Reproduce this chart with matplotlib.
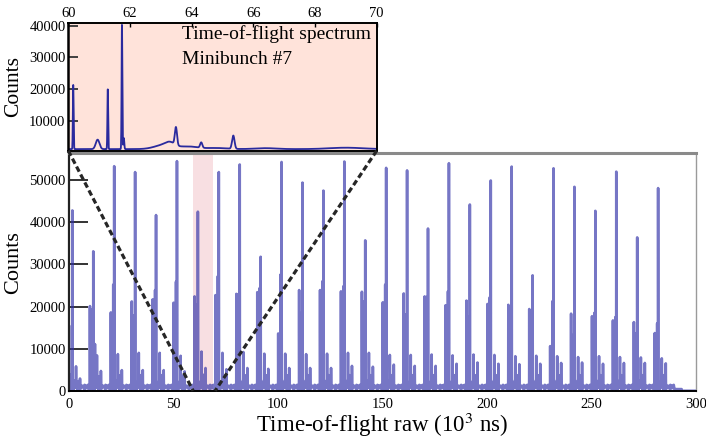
import numpy as np
import matplotlib
matplotlib.use("Agg")
import matplotlib.pyplot as plt
from matplotlib.lines import Line2D

plt.rcParams["font.family"] = ["Liberation Serif", "DejaVu Serif"]
plt.rcParams["mathtext.fontset"] = "stix"

# ---------------- full spectrum: one group of peaks per minibunch ----------------
bunch_start = np.arange(0, 290, 10)            # 10^3 ns, minibunch start times
main_peak = [42400, 32700, 52900, 51500, 41300, 54100, 42100, 51500, 53300, 31400,
             53900, 49000, 47100, 54000, 35300, 52500, 51900, 38100, 53600, 43800,
             49500, 52800, 27000, 52400, 48000, 42300, 51600, 36000, 47700]
early_peak = [15100, 19700, 18200, 20800, 21300, 20500, 22000, 22300, 22600, 23000,
              13200, 23500, 23500, 23200, 23100, 20600, 22700, 22000, 19900, 21000,
              20200, 20000, 19000, 10200, 17900, 17300, 16300, 15900, 13300]
near_peak = [3500, 19000, 24800, 17500, 23500, 25500, 20000, 26800, 22600, 24000,
             27200, 18100, 25600, 24400, 20800, 24800, 17700, 21900, 23200, 17100,
             21800, 18900, 16800, 20900, 12900, 18100, 17100, 13300, 15600]
after_peak = [2000, 10600, 1500, 1500, 1500, 1500, 1500, 1500, 1500, 1500,
              1500, 1500, 1500, 1500, 1500, 1500, 1500, 1500, 1500, 1500,
              1500, 1500, 1500, 1500, 1500, 1500, 1500, 1500, 1500]
late_peak1 = [3800, 6400, 6700, 7000, 7000, 6300, 7300, 7000, 7200, 6800,
              6800, 6700, 6800, 7000, 7000, 6500, 6500, 6600, 6400, 6600,
              6500, 6200, 6300, 6200, 6000, 6200, 6000, 5900, 5700]
late_peak2 = [1800, 3000, 3200, 3300, 3300, 3200, 3400, 3300, 3300, 3300,
              3300, 3300, 3300, 3300, 3300, 3300, 3300, 3300, 3300, 3300,
              3300, 3300, 3300, 3300, 3300, 3300, 3300, 3300, 3300]
late_peak3 = [2500, 4300, 4500, 4500, 4500, 4200, 5000, 4700, 5000, 4800,
              5000, 5000, 5000, 5500, 5300, 5800, 5500, 5500, 6000, 6300,
              6000, 5900, 6000, 6200, 6300, 6000, 6200, 6200, 6100]
# peak times inside a minibunch (10^3 ns after its start)
peak_offset = dict(early=0.15, near=1.30, main=1.75, after=2.55,
                   late1=3.50, late2=4.30, late3=5.40)
# weaker structure repeated in every minibunch
minor_offset = [0.60, 0.95, 2.20, 3.30, 4.80, 6.20, 6.80, 7.60, 8.40, 9.20]
minor_height = [1200, 3000, 1500, 2000, 1200, 800, 700, 1000, 800, 1000]
minor_width = [0.05, 0.08, 0.06, 0.30, 0.10, 0.25, 0.20, 0.10, 0.25, 0.15]
baseline = 400
spectrum_end = 293.0

# ---------------- minibunch #7 close-up ----------------
zoom_peak_t = [60.16, 60.95, 61.28, 61.74, 61.80, 63.30, 63.49, 64.31, 65.35]
zoom_peak_h = [20300, 3000, 18900, 39300, 3500, 1200, 5600, 1700, 4200]
zoom_peak_w = [0.012, 0.06, 0.012, 0.012, 0.015, 0.15, 0.035, 0.035, 0.04]
zoom_bg_t = [63.10, 63.90, 64.80, 66.40, 69.00]
zoom_bg_h = [1300, 800, 350, 300, 450]
zoom_bg_w = [0.30, 0.30, 0.35, 0.35, 0.55]
zoom_base = 1000


def gauss(x, c, h, w):
    return h * np.exp(-0.5 * ((x - c) / w) ** 2)


# full spectrum
t = np.arange(0, 300, 0.01)
counts = np.where(t < spectrum_end, baseline, 0.0).astype(float)
for i, b in enumerate(bunch_start):
    counts += gauss(t, b + peak_offset["early"], early_peak[i], 0.02)
    counts += gauss(t, b + peak_offset["near"], near_peak[i], 0.02)
    counts += gauss(t, b + peak_offset["main"], main_peak[i], 0.02)
    counts += gauss(t, b + peak_offset["after"], after_peak[i], 0.03)
    counts += gauss(t, b + peak_offset["late1"], late_peak1[i], 0.03)
    counts += gauss(t, b + peak_offset["late2"], late_peak2[i], 0.03)
    counts += gauss(t, b + peak_offset["late3"], late_peak3[i], 0.03)
    for c, h, w in zip(minor_offset, minor_height, minor_width):
        counts += gauss(t, b + c, h, w)

# close-up spectrum
tz = np.arange(60, 70, 0.004)
counts_z = np.full_like(tz, zoom_base, dtype=float)
for c, h, w in zip(zoom_peak_t, zoom_peak_h, zoom_peak_w):
    counts_z += gauss(tz, c, h, w)
for c, h, w in zip(zoom_bg_t, zoom_bg_h, zoom_bg_w):
    counts_z += gauss(tz, c, h, w)

# ---------------- figure ----------------
W, H = 706, 440
fig = plt.figure(figsize=(W / 100, H / 100), dpi=100)


def box(l, r, top, bot):
    return [l / W, 1 - bot / H, (r - l) / W, (bot - top) / H]


ax = fig.add_axes(box(68.7, 696.3, 152.7, 390.8))
ax.axvspan(59.2, 69.2, color="#f8dfe2", lw=0, zorder=0)
ax.plot(t, counts, color="#3030a8", lw=1.9, alpha=0.66, zorder=2)
ax.set_xlim(0, 300)
ax.set_ylim(0, 56500)
ax.set_xticks([0, 50, 100, 150, 200, 250, 300])
ax.set_yticks([0, 10000, 20000, 30000, 40000, 50000])
ax.tick_params(axis="y", direction="in", length=14, width=1.4, color="#333333",
               labelsize=10.5, pad=2)
ax.tick_params(axis="x", length=0, labelsize=10.5, pad=5)
ax.set_xlabel(r"Time-of-flight raw (10$^3$ ns)", fontsize=16.5, labelpad=0)
ax.set_ylabel("Counts", fontsize=16)
ax.yaxis.set_label_coords(-0.073, 0.54)
ax.spines["left"].set_linewidth(1.6)
ax.spines["left"].set_color("#222222")
ax.spines["bottom"].set_linewidth(1.4)
ax.spines["top"].set_color("#8a8a8a")
ax.spines["top"].set_linewidth(2.2)
ax.spines["right"].set_color("#9a9a9a")
ax.spines["right"].set_linewidth(1.0)

axi = fig.add_axes(box(68.3, 376.7, 22.7, 150.7))
axi.set_facecolor("#ffe3da")
axi.plot(tz, counts_z, color="#2a2a9e", lw=1.3)
axi.set_xlim(60, 70)
axi.set_ylim(500, 41000)
axi.set_xticks([60, 62, 64, 66, 68, 70])
axi.set_yticks([10000, 20000, 30000, 40000])
axi.xaxis.tick_top()
axi.tick_params(axis="x", direction="in", length=3, width=1, labelsize=10.5, pad=2)
axi.tick_params(axis="y", direction="in", length=7, width=1.3, color="#333333",
                labelsize=10.5, pad=2)
axi.set_ylabel("Counts", fontsize=15.5)
axi.yaxis.set_label_coords(-0.147, 0.5)
for s in axi.spines.values():
    s.set_linewidth(1.4)
    s.set_color("black")
axi.spines["left"].set_linewidth(1.8)
axi.text(63.68, 36000, "Time-of-flight spectrum", fontsize=14, va="baseline")
axi.text(63.68, 27800, "Minibunch #7", fontsize=14, va="baseline")

# zoom guide lines from the close-up corners down to its time window
to_fig = fig.transFigure.inverted()
for xa, xb in [(0, 59.5), (1, 70.0)]:
    p0 = to_fig.transform(axi.transAxes.transform((xa, 0)))
    p1 = to_fig.transform(ax.transData.transform((xb, 0)))
    fig.add_artist(Line2D([p0[0], p1[0]], [p0[1], p1[1]], transform=fig.transFigure,
                          color="#262626", lw=2.3, linestyle=(0, (1.8, 1.0)),
                          solid_capstyle="butt", dash_capstyle="butt", zorder=5))

fig.savefig("out.png", dpi=100)
